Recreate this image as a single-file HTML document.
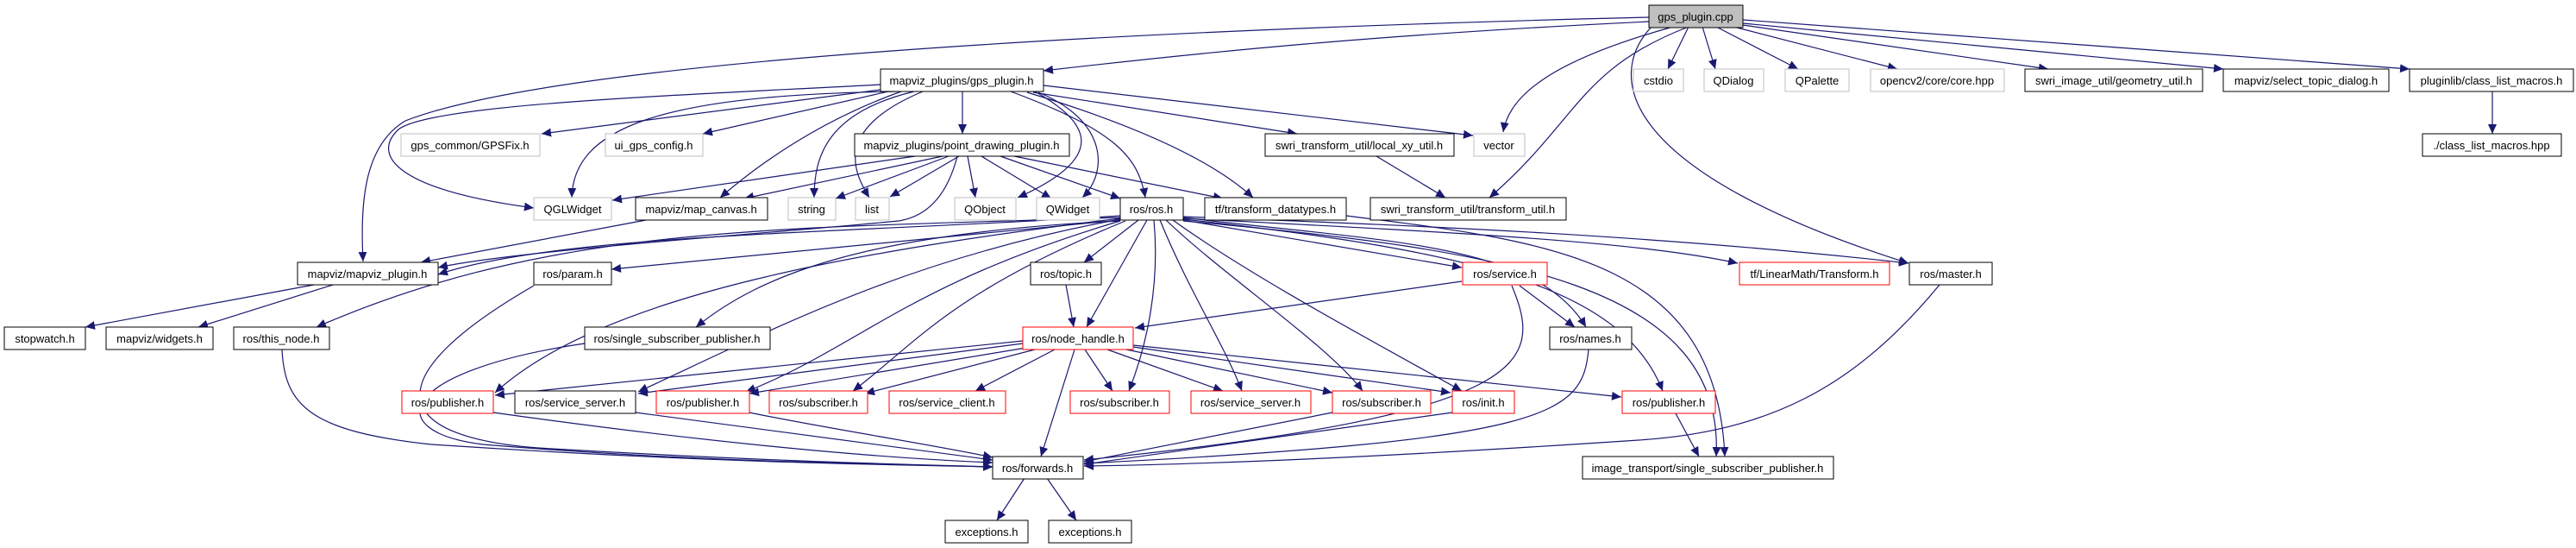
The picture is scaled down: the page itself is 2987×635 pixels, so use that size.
<!DOCTYPE html>
<html><head><meta charset="utf-8"><style>
html,body{margin:0;padding:0;background:#fff;}
svg{display:block;}
text{font-family:"Liberation Sans",sans-serif;font-size:13px;text-anchor:middle;fill:#000;}
.e{fill:none;stroke:#191970;stroke-width:1.2;marker-end:url(#a);}
.b{fill:#fff;stroke:#000;stroke-width:1;}
.g{fill:#fff;stroke:#bfbfbf;stroke-width:1;}
.r{fill:#fff;stroke:#ff0000;stroke-width:1;}
.s{fill:#bfbfbf;stroke:#000;stroke-width:1;}
</style></head><body>
<svg width="2987" height="635" viewBox="0 0 2987 635" xmlns="http://www.w3.org/2000/svg">
<defs><marker id="a" markerUnits="userSpaceOnUse" markerWidth="12" markerHeight="10" refX="11" refY="5" orient="auto"><path d="M0,0 L11,5 L0,10 z" fill="#191970"/></marker></defs>
<!-- edges from gps_plugin.cpp -->
<path class="e" d="M1912,25 C1600,40 1400,60 1210,82"/>
<path class="e" d="M1912,20 C1300,35 650,70 470,140 C420,170 418,240 421,303"/>
<path class="e" d="M1940,31 C1800,70 1750,110 1743,153"/>
<path class="e" d="M1958,31 C1830,80 1830,140 1727,229"/>
<path class="e" d="M1915,31 C1860,90 1880,200 2213,305"/>
<path class="e" d="M1958,31 L1934,80"/>
<path class="e" d="M1974,31 L1989,80"/>
<path class="e" d="M1990,31 L2085,80"/>
<path class="e" d="M2010,31 L2200,80"/>
<path class="e" d="M2021,29 L2375,80"/>
<path class="e" d="M2021,27 L2578,80"/>
<path class="e" d="M2021,23 L2794,80"/>
<path class="e" d="M2890,106 L2890,155"/>
<!-- from gps_plugin.h -->
<path class="e" d="M1116,106 L1116,155"/>
<path class="e" d="M1021,98 C800,110 500,120 462,150 C430,180 460,220 619,241"/>
<path class="e" d="M1021,104 L628,155"/>
<path class="e" d="M1030,106 L815,155"/>
<path class="e" d="M1040,106 C760,110 665,150 663,229"/>
<path class="e" d="M1045,106 C950,140 880,190 835,229"/>
<path class="e" d="M1060,106 C960,130 944,180 944,229"/>
<path class="e" d="M1070,106 C965,150 990,200 1008,229"/>
<path class="e" d="M1200,106 C1260,140 1290,180 1180,229"/>
<path class="e" d="M1204,107 C1285,140 1285,200 1255,229"/>
<path class="e" d="M1172,106 C1290,150 1320,180 1328,229"/>
<path class="e" d="M1191,107 C1300,140 1400,180 1453,229"/>
<path class="e" d="M1198,107 L1504,155"/>
<path class="e" d="M1210,99 L1708,157"/>
<!-- from point_drawing_plugin.h -->
<path class="e" d="M1061,181 L710,232"/>
<path class="e" d="M1093,181 L863,230"/>
<path class="e" d="M1100,181 L969,230"/>
<path class="e" d="M1112,181 L1032,228"/>
<path class="e" d="M1122,181 L1131,229"/>
<path class="e" d="M1138,181 L1219,230"/>
<path class="e" d="M1160,181 L1299,230"/>
<path class="e" d="M1176,181 L1418,230"/>
<path class="e" d="M1110,181 C1100,220 1080,250 1042,256 C900,270 600,290 508,310"/>
<path class="e" d="M1596,181 L1676,229"/>
<path class="e" d="M749,255 L488,304"/>
<path class="e" d="M364,330 L99,379"/>
<path class="e" d="M386,330 L230,379"/>
<!-- from ros.h -->
<path class="e" d="M1299,250 C1000,270 650,270 508,318"/>
<path class="e" d="M1299,252 C900,265 640,260 367,379"/>
<path class="e" d="M1299,255 L709,312"/>
<path class="e" d="M1299,256 C1000,270 880,320 807,379"/>
<path class="e" d="M1320,255 L1257,304"/>
<path class="e" d="M1330,255 L1260,379"/>
<path class="e" d="M1338,255 C1345,330 1330,400 1309,453"/>
<path class="e" d="M1345,255 C1380,340 1420,400 1440,453"/>
<path class="e" d="M1352,255 C1420,320 1540,400 1580,453"/>
<path class="e" d="M1360,255 C1450,320 1600,400 1695,453"/>
<path class="e" d="M1372,255 L1695,310"/>
<path class="e" d="M1372,252 C1600,280 1780,280 1839,379"/>
<path class="e" d="M1372,254 C1700,290 1880,330 1928,453"/>
<path class="e" d="M1372,256 C1750,290 2000,330 1990,529"/>
<path class="e" d="M1372,253 C1700,270 1900,280 2015,305"/>
<path class="e" d="M1372,251 C1600,260 1900,270 2213,305"/>
<path class="e" d="M1299,253 C1000,290 700,340 574,455"/>
<path class="e" d="M1299,254 C1050,300 900,380 740,454"/>
<path class="e" d="M1299,256 C1050,330 1000,400 865,454"/>
<path class="e" d="M1305,256 C1100,340 1060,400 989,453"/>
<path class="e" d="M1561,250 C1800,280 1990,300 2000,529"/>
<!-- node_handle.h -->
<path class="e" d="M1236,330 L1245,379"/>
<path class="e" d="M1695,326 L1316,380"/>
<path class="e" d="M1762,331 L1826,379"/>
<path class="e" d="M1753,331 C1790,420 1780,480 1257,533"/>
<path class="e" d="M1842,405 C1835,480 1800,510 1257,537"/>
<path class="e" d="M1186,395 L574,458"/>
<path class="e" d="M1186,398 L740,456"/>
<path class="e" d="M1190,403 L869,456"/>
<path class="e" d="M1200,405 L1003,456"/>
<path class="e" d="M1223,405 L1131,453"/>
<path class="e" d="M1258,405 L1290,453"/>
<path class="e" d="M1284,405 L1418,453"/>
<path class="e" d="M1306,405 L1545,455"/>
<path class="e" d="M1314,402 L1682,455"/>
<path class="e" d="M1314,400 L1880,460"/>
<path class="e" d="M1246,405 L1207,529"/>
<!-- into forwards.h -->
<path class="e" d="M678,398 C460,430 440,500 560,515 C800,535 1000,537 1151,541"/>
<path class="e" d="M619,331 C430,440 450,510 640,520 C900,535 1050,538 1151,541"/>
<path class="e" d="M327,405 C330,470 360,500 500,515 C800,535 1000,538 1151,541"/>
<path class="e" d="M572,478 C800,510 1000,530 1151,536"/>
<path class="e" d="M737,478 C900,500 1050,520 1151,533"/>
<path class="e" d="M869,478 C950,495 1080,515 1151,530"/>
<path class="e" d="M1545,478 L1257,535"/>
<path class="e" d="M1684,478 L1257,538"/>
<path class="e" d="M2249,330 C2150,450 2050,500 1900,510 C1600,530 1400,538 1257,540"/>
<path class="e" d="M1943,479 L1970,529"/>
<path class="e" d="M1188,554 L1156,603"/>
<path class="e" d="M1214,554 L1248,603"/>
<!-- nodes -->
<rect class="s" x="1912" y="6" width="109" height="26"/><text x="1966" y="24">gps_plugin.cpp</text>
<rect class="b" x="1021" y="80" width="189" height="26"/><text x="1115" y="98">mapviz_plugins/gps_plugin.h</text>
<rect class="g" x="1894" y="80" width="58" height="26"/><text x="1923" y="98">cstdio</text>
<rect class="g" x="1976" y="80" width="69" height="26"/><text x="2010" y="98">QDialog</text>
<rect class="g" x="2070" y="80" width="74" height="26"/><text x="2107" y="98">QPalette</text>
<rect class="g" x="2169" y="80" width="155" height="26"/><text x="2246" y="98">opencv2/core/core.hpp</text>
<rect class="b" x="2348" y="80" width="206" height="26"/><text x="2451" y="98">swri_image_util/geometry_util.h</text>
<rect class="b" x="2578" y="80" width="192" height="26"/><text x="2674" y="98">mapviz/select_topic_dialog.h</text>
<rect class="b" x="2794" y="80" width="190" height="26"/><text x="2889" y="98">pluginlib/class_list_macros.h</text>
<rect class="g" x="465" y="155" width="161" height="26"/><text x="545" y="173">gps_common/GPSFix.h</text>
<rect class="g" x="702" y="155" width="113" height="26"/><text x="758" y="173">ui_gps_config.h</text>
<rect class="b" x="991" y="155" width="249" height="26"/><text x="1115" y="173">mapviz_plugins/point_drawing_plugin.h</text>
<rect class="b" x="1467" y="155" width="219" height="26"/><text x="1576" y="173">swri_transform_util/local_xy_util.h</text>
<rect class="g" x="1709" y="155" width="59" height="26"/><text x="1738" y="173">vector</text>
<rect class="b" x="2809" y="155" width="161" height="26"/><text x="2889" y="173">./class_list_macros.hpp</text>
<rect class="g" x="619" y="229" width="90" height="26"/><text x="664" y="247">QGLWidget</text>
<rect class="b" x="737" y="229" width="153" height="26"/><text x="813" y="247">mapviz/map_canvas.h</text>
<rect class="g" x="914" y="229" width="55" height="26"/><text x="941" y="247">string</text>
<rect class="g" x="992" y="229" width="39" height="26"/><text x="1011" y="247">list</text>
<rect class="g" x="1107" y="229" width="71" height="26"/><text x="1142" y="247">QObject</text>
<rect class="g" x="1202" y="229" width="73" height="26"/><text x="1238" y="247">QWidget</text>
<rect class="b" x="1299" y="229" width="73" height="26"/><text x="1335" y="247">ros/ros.h</text>
<rect class="b" x="1397" y="229" width="164" height="26"/><text x="1479" y="247">tf/transform_datatypes.h</text>
<rect class="b" x="1589" y="229" width="227" height="26"/><text x="1702" y="247">swri_transform_util/transform_util.h</text>
<rect class="b" x="345" y="304" width="163" height="26"/><text x="426" y="322">mapviz/mapviz_plugin.h</text>
<rect class="b" x="619" y="304" width="90" height="26"/><text x="664" y="322">ros/param.h</text>
<rect class="b" x="1195" y="304" width="82" height="26"/><text x="1236" y="322">ros/topic.h</text>
<rect class="r" x="1696" y="304" width="98" height="26"/><text x="1745" y="322">ros/service.h</text>
<rect class="r" x="2017" y="304" width="174" height="26"/><text x="2104" y="322">tf/LinearMath/Transform.h</text>
<rect class="b" x="2214" y="304" width="96" height="26"/><text x="2262" y="322">ros/master.h</text>
<rect class="b" x="5" y="379" width="94" height="26"/><text x="52" y="397">stopwatch.h</text>
<rect class="b" x="123" y="379" width="124" height="26"/><text x="185" y="397">mapviz/widgets.h</text>
<rect class="b" x="271" y="379" width="111" height="26"/><text x="326" y="397">ros/this_node.h</text>
<rect class="b" x="678" y="379" width="215" height="26"/><text x="785" y="397">ros/single_subscriber_publisher.h</text>
<rect class="r" x="1186" y="379" width="128" height="26"/><text x="1250" y="397">ros/node_handle.h</text>
<rect class="b" x="1797" y="379" width="95" height="26"/><text x="1844" y="397">ros/names.h</text>
<rect class="r" x="466" y="453" width="106" height="26"/><text x="519" y="471">ros/publisher.h</text>
<rect class="b" x="597" y="453" width="140" height="26"/><text x="667" y="471">ros/service_server.h</text>
<rect class="r" x="761" y="453" width="108" height="26"/><text x="815" y="471">ros/publisher.h</text>
<rect class="r" x="892" y="453" width="114" height="26"/><text x="949" y="471">ros/subscriber.h</text>
<rect class="r" x="1031" y="453" width="135" height="26"/><text x="1098" y="471">ros/service_client.h</text>
<rect class="r" x="1241" y="453" width="115" height="26"/><text x="1298" y="471">ros/subscriber.h</text>
<rect class="r" x="1381" y="453" width="139" height="26"/><text x="1450" y="471">ros/service_server.h</text>
<rect class="r" x="1545" y="453" width="114" height="26"/><text x="1602" y="471">ros/subscriber.h</text>
<rect class="r" x="1684" y="453" width="72" height="26"/><text x="1720" y="471">ros/init.h</text>
<rect class="r" x="1881" y="453" width="108" height="26"/><text x="1935" y="471">ros/publisher.h</text>
<rect class="b" x="1151" y="529" width="105" height="26"/><text x="1203" y="547">ros/forwards.h</text>
<rect class="b" x="1835" y="529" width="291" height="26"/><text x="1980" y="547">image_transport/single_subscriber_publisher.h</text>
<rect class="b" x="1096" y="603" width="96" height="26"/><text x="1144" y="621">exceptions.h</text>
<rect class="b" x="1216" y="603" width="96" height="26"/><text x="1264" y="621">exceptions.h</text>
</svg>
</body></html>
